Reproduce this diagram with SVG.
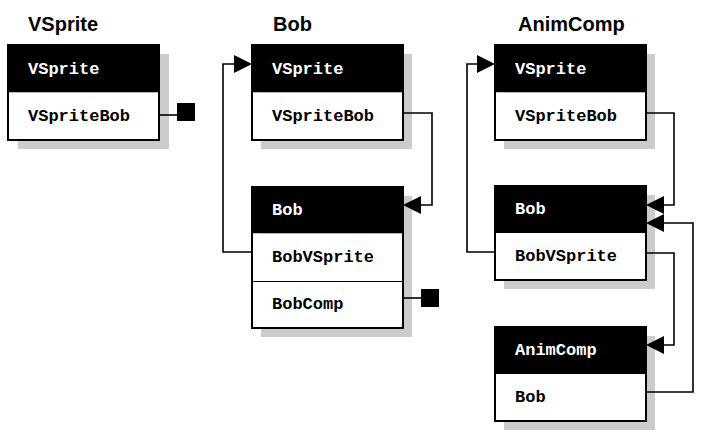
<svg xmlns="http://www.w3.org/2000/svg" width="703" height="440" viewBox="0 0 703 440">
<style>
.title{font-family:"Liberation Sans",Arial,Helvetica,sans-serif;font-weight:bold;font-size:20px;fill:#000}
.hd{fill:#000}
.fd{fill:#fff}
.sh{fill:#cccccc}
.bx{fill:none;stroke:#000;stroke-width:2}
.dv{stroke:#000;stroke-width:1}
.ht{font-family:"Liberation Mono","Courier New",monospace;font-weight:bold;font-size:17px;fill:#fff}
.ft{font-family:"Liberation Mono","Courier New",monospace;font-weight:bold;font-size:17px;fill:#000}
.ln{fill:none;stroke:#000;stroke-width:1.6}
.ar{fill:#000}
.sq{fill:#000}
</style>
<defs>
<polygon id="arR" points="0,0 -18,-9 -18,9"/>
<polygon id="arL" points="0,0 18,-9 18,9"/>
</defs>

<text class="title" x="28" y="31">VSprite</text>
<text class="title" x="273" y="31">Bob</text>
<text class="title" x="518" y="31">AnimComp</text>

<!-- Panel 1 -->
<g id="p1-vsprite">
<rect class="sh" x="18" y="54" width="151" height="95"/>
<rect class="hd" x="8" y="45" width="151" height="47.5"/>
<rect class="fd" x="8" y="92.5" width="151" height="47.5"/>
<rect class="bx" x="8" y="45" width="151" height="95"/>
<text class="ht" x="28" y="73.5">VSprite</text>
<text class="ft" x="28" y="121">VSpriteBob</text>
</g>

<!-- Panel 2 -->
<g id="p2-vsprite">
<rect class="sh" x="261" y="54" width="151" height="95"/>
<rect class="hd" x="252" y="45" width="151" height="47.5"/>
<rect class="fd" x="252" y="92.5" width="151" height="47.5"/>
<rect class="bx" x="252" y="45" width="151" height="95"/>
<text class="ht" x="272" y="73.5">VSprite</text>
<text class="ft" x="272" y="121">VSpriteBob</text>
</g>
<g id="p2-bob">
<rect class="sh" x="261" y="196" width="151" height="141"/>
<rect class="hd" x="252" y="187" width="151" height="46.5"/>
<rect class="fd" x="252" y="233.5" width="151" height="94.5"/>
<line class="dv" x1="252" y1="281.5" x2="403" y2="281.5"/>
<rect class="bx" x="252" y="187" width="151" height="141"/>
<text class="ht" x="272" y="215">Bob</text>
<text class="ft" x="272" y="262">BobVSprite</text>
<text class="ft" x="272" y="309">BobComp</text>
</g>

<!-- Panel 3 -->
<g id="p3-vsprite">
<rect class="sh" x="504" y="54" width="151" height="95"/>
<rect class="hd" x="495" y="45" width="151" height="47.5"/>
<rect class="fd" x="495" y="92.5" width="151" height="47.5"/>
<rect class="bx" x="495" y="45" width="151" height="95"/>
<text class="ht" x="515" y="73.5">VSprite</text>
<text class="ft" x="515" y="121">VSpriteBob</text>
</g>
<g id="p3-bob">
<rect class="sh" x="504" y="195" width="151" height="94"/>
<rect class="hd" x="495" y="186" width="151" height="47"/>
<rect class="fd" x="495" y="233" width="151" height="47"/>
<rect class="bx" x="495" y="186" width="151" height="94"/>
<text class="ht" x="515" y="214">Bob</text>
<text class="ft" x="515" y="261">BobVSprite</text>
</g>
<g id="p3-animcomp">
<rect class="sh" x="504" y="336" width="151" height="94"/>
<rect class="hd" x="495" y="327" width="151" height="47"/>
<rect class="fd" x="495" y="374" width="151" height="47"/>
<rect class="bx" x="495" y="327" width="151" height="94"/>
<text class="ht" x="515" y="355">AnimComp</text>
<text class="ft" x="515" y="402">Bob</text>
</g>

<g id="connectors">
<!-- Panel 1 -->
<line class="ln" x1="159" y1="115" x2="178" y2="115"/>
<rect class="sq" x="177" y="103" width="18" height="18"/>
<!-- Panel 2 -->
<path class="ln" d="M252 252 H223 V64 H236"/>
<use href="#arR" x="252" y="64"/>
<path class="ln" d="M403 113 H432 V205 H418"/>
<use href="#arL" x="403" y="205"/>
<line class="ln" x1="403" y1="298" x2="422" y2="298"/>
<rect class="sq" x="421" y="289" width="18" height="18"/>
<!-- Panel 3 -->
<path class="ln" d="M495 252 H467 V64 H480"/>
<use href="#arR" x="495" y="64"/>
<path class="ln" d="M646 113 H674 V205 H661"/>
<use href="#arL" x="646" y="205"/>
<path class="ln" d="M646 392 H693 V223 H661"/>
<use href="#arL" x="646" y="223"/>
<path class="ln" d="M646 253 H674 V345 H661"/>
<use href="#arL" x="646" y="345"/>
</g>
</svg>
